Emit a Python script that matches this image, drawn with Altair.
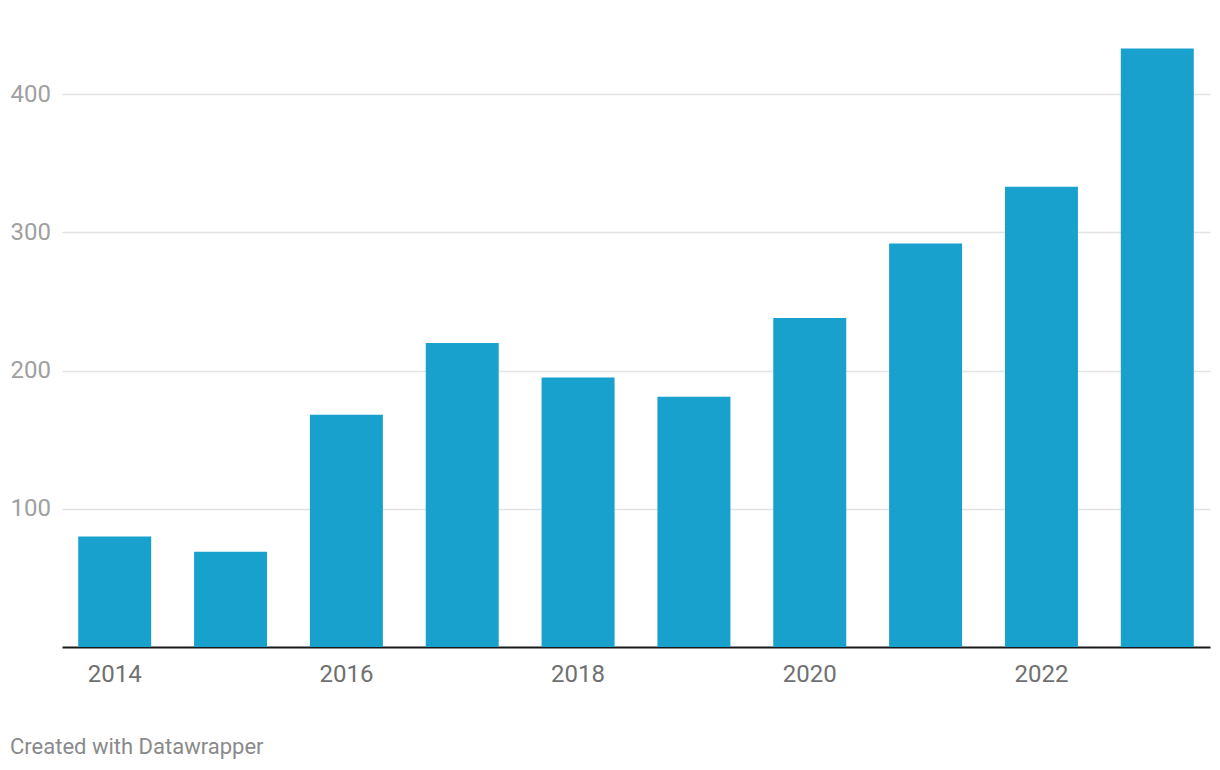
import altair as alt
import pandas as pd

years = ["2014", "2015", "2016", "2017", "2018", "2019", "2020", "2021", "2022", "2023"]
values = [80, 69, 168, 220, 195, 181, 238, 292, 333, 433]
x_ticks = ["2014", "2016", "2018", "2020", "2022"]
y_ticks = [100, 200, 300, 400]

df = pd.DataFrame({"year": years, "value": values})

chart = alt.Chart(df).mark_bar(color="#18a1cd").encode(
    x=alt.X(
        "year:N",
        sort=years,
        scale=alt.Scale(paddingInner=0.37, paddingOuter=0.14),
        axis=alt.Axis(
            title=None,
            values=x_ticks,
            labelAngle=0,
            ticks=False,
            tickSize=0,
            domainColor="#1a1a1a",
            domainWidth=2,
            labelColor="#707070",
            labelFontSize=24,
            labelFont="Roboto",
            labelPadding=15,
        ),
    ),
    y=alt.Y(
        "value:Q",
        scale=alt.Scale(domain=[0, 450], nice=False),
        axis=alt.Axis(
            title=None,
            values=y_ticks,
            ticks=False,
            tickSize=0,
            domain=False,
            grid=True,
            gridColor="#e3e3e3",
            gridWidth=1.5,
            labelAlign="left",
            labelBaseline="middle",
            labelPadding=52,
            labelColor="#a0a0a0",
            labelFontSize=24,
            labelFont="Roboto",
        ),
    ),
).properties(
    width=1148,
    height=622,
    padding={"left": 54, "top": 17, "right": 2, "bottom": 118},
    autosize=alt.AutoSizeParams(type="none"),
    title=alt.TitleParams(
        "Created with Datawrapper",
        orient="bottom",
        anchor="start",
        offset=51,
        fontSize=22,
        font="Roboto",
        fontWeight="normal",
        color="#8a8a8a",
    ),
).configure_view(stroke=None)

chart.save("out.html", embed_options={"renderer": "svg", "actions": False})
